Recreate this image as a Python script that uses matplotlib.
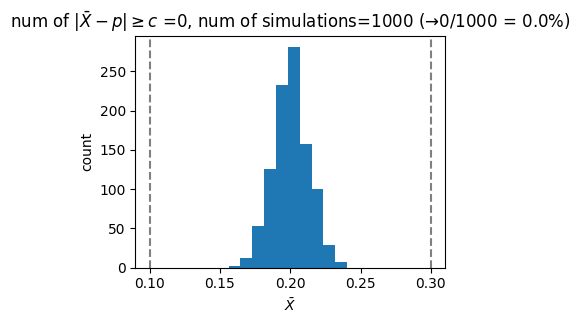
import numpy as np
import matplotlib
matplotlib.use('Agg')
import matplotlib.pyplot as plt

# histogram
bin_edges = [0.1562, 0.1646, 0.1730, 0.1815, 0.1899, 0.1984, 0.2068, 0.2152, 0.2236, 0.2320, 0.2404]
counts = [2, 12, 53, 126, 233, 281, 157, 100, 29, 7]
p = 0.2
c = 0.1
n_sim = 1000
n_out = 0

fig = plt.figure(figsize=(5.8, 3.23), dpi=100)
ax = fig.add_axes([0.2336, 0.171, 0.5336, 0.718])
ax.hist(bin_edges[:-1], bins=bin_edges, weights=counts)
ax.axvline(p - c, color='gray', linestyle='--')
ax.axvline(p + c, color='gray', linestyle='--')
ax.set_title(r'num of $|\bar{X}-p| \geq c$ =%d, num of simulations=%d (→%d/%d = %.1f%%)'
             % (n_out, n_sim, n_out, n_sim, 100 * n_out / n_sim))
ax.set_xlabel(r'$\bar{X}$')
ax.set_ylabel('count')
ax.set_xticks([0.10, 0.15, 0.20, 0.25, 0.30])
fig.savefig('out.png', dpi=100)
